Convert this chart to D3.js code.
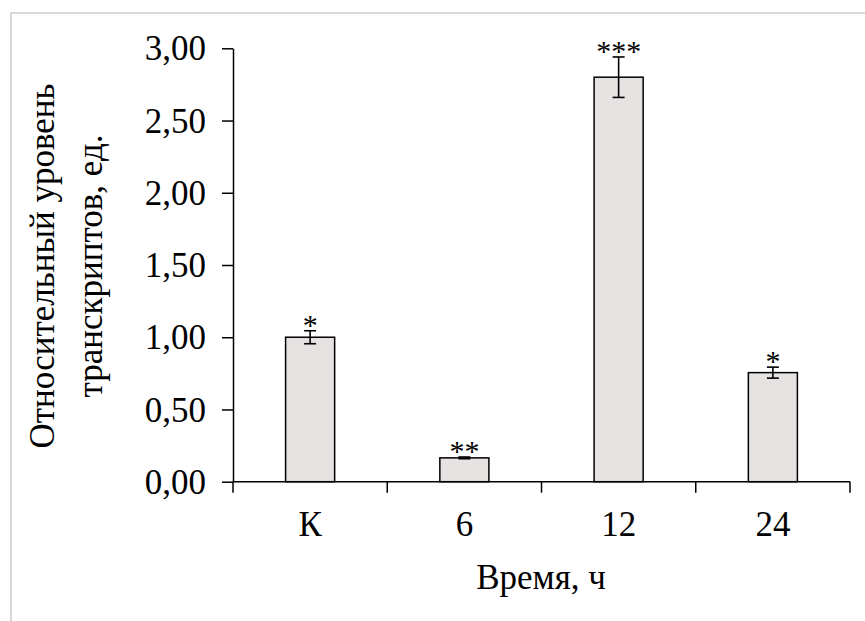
<!DOCTYPE html>
<html>
<head>
<meta charset="utf-8">
<script src="https://cdn.jsdelivr.net/npm/d3@7"></script>
<style>
  html, body { margin: 0; padding: 0; background: #fff; }
  svg { display: block; }
  text { font-family: "Liberation Serif", "Times New Roman", serif; fill: #000; }
</style>
</head>
<body>
<svg id="chart" width="865" height="621"></svg>
<script>
// Relative transcript level over time
const categories = ["К", "6", "12", "24"];
const values = [1.00, 0.165, 2.80, 0.755];
const errors = [0.045, 0.006, 0.14, 0.038];
const marks = ["*", "**", "***", "*"];
const yTicks = [0, 0.5, 1.0, 1.5, 2.0, 2.5, 3.0];
const yTitle = ["Относительный уровень", "транскриптов, ед."];
const xTitle = "Время, ч";

const labelSize = 35;
const svg = d3.select("#chart");

// light frame around the plot area
svg.append("rect")
  .attr("x", 11).attr("y", 13)
  .attr("width", 900).attr("height", 700)
  .attr("fill", "none")
  .attr("stroke", "#d9d9d9")
  .attr("stroke-width", 2);

const plotLeft = 233, plotRight = 850, plotTop = 48.3, plotBottom = 481.7;
const pad = 0.682;

const x = d3.scaleBand()
  .domain(categories)
  .range([plotLeft, plotRight])
  .paddingInner(pad)
  .paddingOuter(pad / 2);

const y = d3.scaleLinear().domain([0, 3]).range([plotBottom, plotTop]);

const fmt = d => d3.format(".2f")(d).replace(".", ",");

// bars
svg.append("g").selectAll("rect")
  .data(categories)
  .join("rect")
  .attr("x", d => x(d))
  .attr("y", (d, i) => y(values[i]))
  .attr("width", x.bandwidth())
  .attr("height", (d, i) => y(0) - y(values[i]))
  .attr("fill", "#e6e2e2")
  .attr("stroke", "#000")
  .attr("stroke-width", 1.5);

// error bars
const eb = svg.append("g").attr("stroke", "#000").attr("stroke-width", 1.6);
categories.forEach((c, i) => {
  const cx = x(c) + x.bandwidth() / 2;
  const hi = y(values[i] + errors[i]);
  const lo = y(values[i] - errors[i]);
  eb.append("line").attr("x1", cx).attr("x2", cx).attr("y1", hi).attr("y2", lo);
  eb.append("line").attr("x1", cx - 6).attr("x2", cx + 6).attr("y1", hi).attr("y2", hi);
  eb.append("line").attr("x1", cx - 6).attr("x2", cx + 6).attr("y1", lo).attr("y2", lo);
});

// significance marks
svg.append("g").selectAll("text")
  .data(categories)
  .join("text")
  .attr("x", d => x(d) + x.bandwidth() / 2)
  .attr("y", (d, i) => y(values[i] + errors[i]) + 4)
  .attr("text-anchor", "middle")
  .attr("font-size", 30)
  .text((d, i) => marks[i]);

// y axis
const yAxis = svg.append("g")
  .attr("transform", `translate(${plotLeft},0)`)
  .call(d3.axisLeft(y).tickValues(yTicks).tickFormat(fmt).tickSize(11).tickSizeOuter(0).tickPadding(16));
yAxis.select(".domain").attr("stroke-width", 1.5);
yAxis.selectAll(".tick line").attr("stroke-width", 1.5);
yAxis.selectAll(".tick text")
  .attr("font-size", labelSize)
  .attr("font-family", "Liberation Serif")
  .attr("dy", "0.33em");

// x axis: line, boundary ticks, category labels
const xg = svg.append("g");
xg.append("line")
  .attr("x1", plotLeft).attr("x2", plotRight)
  .attr("y1", y(0)).attr("y2", y(0))
  .attr("stroke", "#000").attr("stroke-width", 1.5);
const step = x.step();
const bounds = categories.map(c => x(c) - step * pad / 2).concat([plotRight]);
xg.selectAll("line.b")
  .data(bounds)
  .join("line")
  .attr("class", "b")
  .attr("x1", d => d).attr("x2", d => d)
  .attr("y1", y(0)).attr("y2", y(0) + 11)
  .attr("stroke", "#000").attr("stroke-width", 1.5);
xg.selectAll("text")
  .data(categories)
  .join("text")
  .attr("x", d => x(d) + x.bandwidth() / 2)
  .attr("y", y(0) + 54)
  .attr("text-anchor", "middle")
  .attr("font-size", labelSize)
  .text(d => d);

// axis titles
svg.append("text")
  .attr("x", 541).attr("y", 589)
  .attr("text-anchor", "middle")
  .attr("font-size", labelSize)
  .text(xTitle);

const yt = svg.append("text")
  .attr("transform", "translate(54,266) rotate(-90)")
  .attr("text-anchor", "middle")
  .attr("font-size", labelSize);
yt.selectAll("tspan")
  .data(yTitle)
  .join("tspan")
  .attr("x", 0)
  .attr("dy", (d, i) => i === 0 ? 0 : 48)
  .text(d => d);
</script>
</body>
</html>
